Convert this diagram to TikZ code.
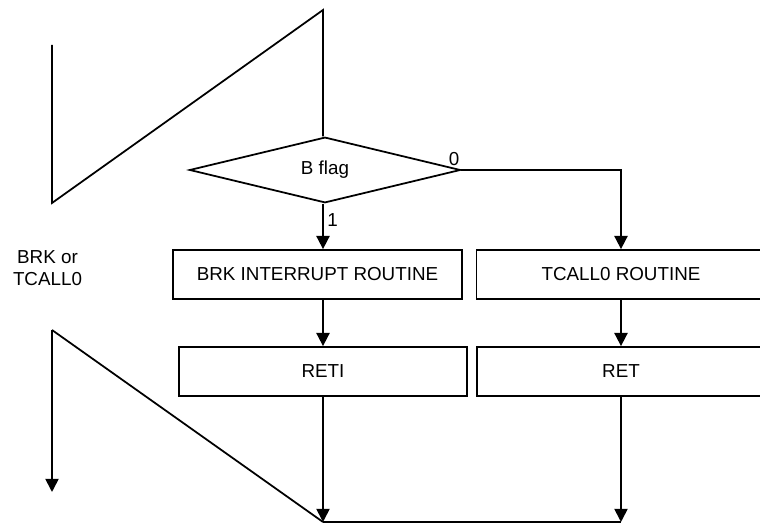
\documentclass[tikz,border=0pt]{standalone}
\usepackage{fontspec}
\setmainfont{Liberation Sans}
\usepackage{tikz}
\usetikzlibrary{arrows.meta, positioning, shapes.geometric}
\tikzstyle{fbox}=[rectangle, draw=black, line width=1pt, font=\fontsize{10.7}{12.5}\selectfont,
  text centered, minimum width=5.78cm, minimum height=0.98cm, inner sep=0pt]
\tikzstyle{fdia}=[diamond, draw=black, line width=1pt, font=\fontsize{10.7}{12.5}\selectfont,
  minimum width=5.42cm, minimum height=1.28cm, inner sep=0pt]
\tikzstyle{farr}=[-{Triangle[length=7.5pt, width=7.5pt]}, line width=1pt]
\tikzstyle{fline}=[line width=1pt]

\begin{document}
\begin{tikzpicture}
    \useasboundingbox (0,0) rectangle (15.2,10.48);
    \clip (0,0) rectangle (15.2,10.48);
    \node[fdia] (bflag) at (6.5,7.08) {B flag};
    \node[fbox] (brk) at (6.35,4.99) {BRK INTERRUPT ROUTINE};
    \node[fbox, minimum width=5.78cm] (tcall) at (12.42,4.99) {TCALL0 ROUTINE};
    \node[fbox, minimum width=5.76cm] (reti) at (6.46,3.05) {RETI};
    \node[fbox, minimum width=5.76cm] (ret) at (12.42,3.05) {RET};
    \coordinate (joinl) at (6.46,0.04);
    \coordinate (joinr) at (12.42,0.04);
    % stylised program flow on the left
    \coordinate (ztop) at (1.04,9.58);
    \coordinate (zlow) at (1.04,6.42);
    \coordinate (zpeak) at (6.46,10.28);
    \coordinate (rtop) at (1.04,3.88);
    \coordinate (rend) at (1.04,0.64);
    \draw[fline] (ztop)--(zlow)--(zpeak)--(zpeak |- bflag.north);
    \draw[fline] (joinl)--(rtop);
    \draw[farr] (rtop)--(rend);
    \node[font=\fontsize{10.7}{12.5}\selectfont, align=center] (lbl) at (0.95,5.12) {BRK or\\TCALL0};
    % branches
    \draw[farr] (zpeak |- bflag.south)--(zpeak |- brk.north)
      node[pos=0.35, right, font=\fontsize{10.7}{12.5}\selectfont, inner sep=2pt] {1};
    \draw[farr] (bflag.east)--(tcall.north |- bflag.east)--(tcall.north);
    \node[font=\fontsize{10.7}{12.5}\selectfont, anchor=south east, inner sep=1pt] (zero) at ([yshift=1pt]bflag.east) {0};
    \draw[farr] (brk.south -| reti.north)--(reti.north);
    \draw[farr] (tcall.south)--(ret.north);
    \draw[farr] (reti.south)--(joinl);
    \draw[farr] (ret.south)--(joinr);
    \draw[fline] (joinl)--(joinr);
  \end{tikzpicture}
\end{document}
